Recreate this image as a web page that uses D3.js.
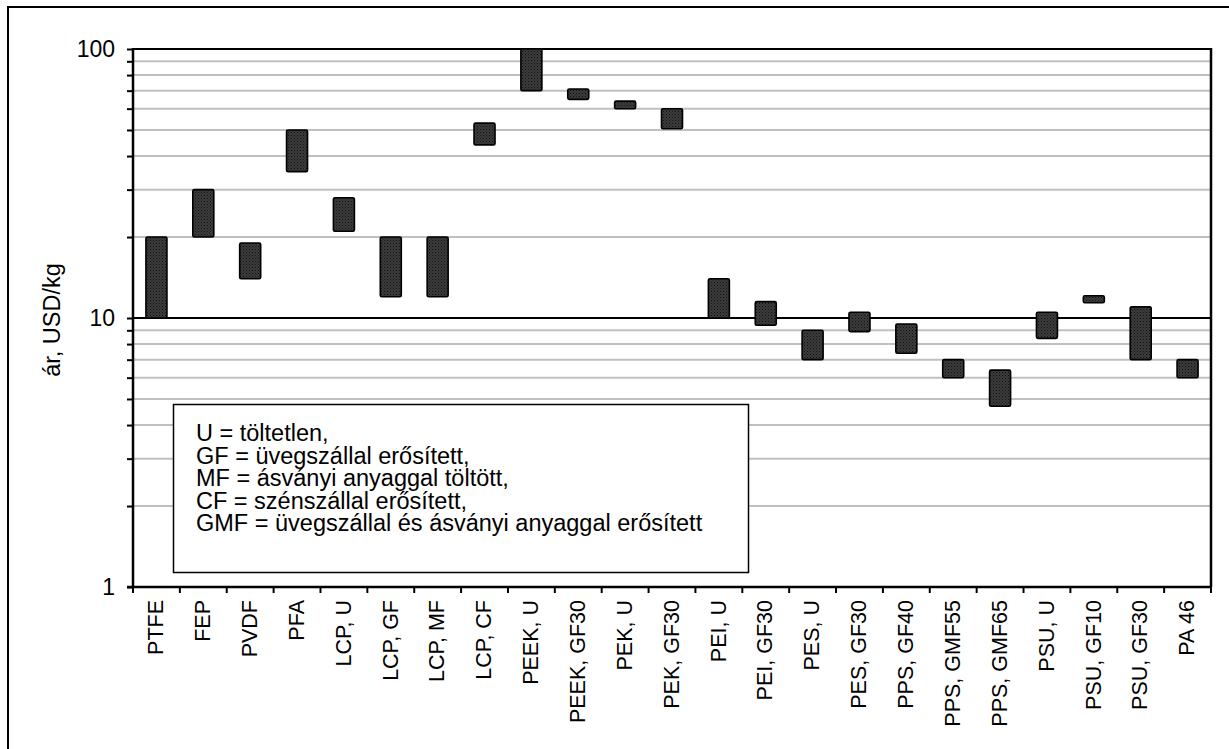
<!DOCTYPE html>
<html>
<head>
<meta charset="utf-8">
<script src="https://cdn.jsdelivr.net/npm/d3@7"></script>
<style>
  body { margin: 0; background: #fff; }
  svg { display: block; font-family: "Liberation Sans", Arial, sans-serif; }
</style>
</head>
<body>
<svg width="1229" height="749"></svg>
<script>
// Data: price range (USD/kg) per polymer grade
const categories = ["PTFE", "FEP", "PVDF", "PFA", "LCP, U", "LCP, GF", "LCP, MF", "LCP, CF",
    "PEEK, U", "PEEK, GF30", "PEK, U", "PEK, GF30", "PEI, U", "PEI, GF30", "PES, U", "PES, GF30",
    "PPS, GF40", "PPS, GMF55", "PPS, GMF65", "PSU, U", "PSU, GF10", "PSU, GF30", "PA 46"];
const lowValues = [10, 20, 14, 35, 21, 12, 12, 44, 70, 65, 60, 50.5, 10, 9.4, 7, 8.9, 7.4, 6, 4.7, 8.4, 11.4, 7, 6];
const highValues = [20, 30, 19, 50, 28, 20, 20, 53, 100, 71, 64, 60, 14, 11.5, 9, 10.5, 9.5, 7, 6.4, 10.5, 12.1, 11, 7];
const yTicks = [1, 10, 100];
const legendLines = [
    "U = töltetlen,",
    "GF = üvegszállal erősített,",
    "MF = ásványi anyaggal töltött,",
    "CF = szénszállal erősített,",
    "GMF = üvegszállal és ásványi anyaggal erősített"
];

const data = categories.map((c, i) => ({ name: c, lo: lowValues[i], hi: highValues[i] }));

const svg = d3.select("svg");
const pLeft = 133, pRight = 1211, pTop = 49, pBottom = 587;

// outer frame
svg.append("rect").attr("x", 8).attr("y", 7).attr("width", 1240).attr("height", 760)
    .attr("fill", "none").attr("stroke", "#000").attr("stroke-width", 2);

const x = d3.scaleBand().domain(categories).range([pLeft, pRight]);
const y = d3.scaleLog().domain([1, 100]).range([pBottom, pTop]);

// minor grid values 2..9, 20..90
const minor = [];
[1, 10].forEach(b => { for (let k = 2; k <= 9; k++) minor.push(b * k); });

svg.append("g").selectAll("line").data(minor).enter().append("line")
    .attr("x1", pLeft).attr("x2", pRight)
    .attr("y1", d => y(d)).attr("y2", d => y(d))
    .attr("stroke", "#c0c0c0").attr("stroke-width", 2);

// major line at 10 and top line at 100
svg.append("g").selectAll("line").data([10, 100]).enter().append("line")
    .attr("x1", pLeft).attr("x2", pRight)
    .attr("y1", d => y(d)).attr("y2", d => y(d))
    .attr("stroke", "#000").attr("stroke-width", 2);

// right border
svg.append("line").attr("x1", pRight).attr("x2", pRight).attr("y1", pTop - 1).attr("y2", pBottom)
    .attr("stroke", "#000").attr("stroke-width", 2.5);

// bar texture
const defs = svg.append("defs");
const pat = defs.append("pattern").attr("id", "dots").attr("width", 3).attr("height", 3)
    .attr("patternUnits", "userSpaceOnUse");
pat.append("rect").attr("width", 3).attr("height", 3).attr("fill", "#3c3c3c");
pat.append("rect").attr("width", 1).attr("height", 1).attr("fill", "#111");
pat.append("rect").attr("x", 1.5).attr("y", 1.5).attr("width", 1).attr("height", 1).attr("fill", "#1a1a1a");

const bw = 21;
svg.append("g").selectAll("rect").data(data).enter().append("rect")
    .attr("x", d => x(d.name) + x.bandwidth() / 2 - bw / 2)
    .attr("y", d => y(d.hi))
    .attr("width", bw)
    .attr("height", d => y(d.lo) - y(d.hi))
    .attr("rx", 1.5)
    .attr("fill", "url(#dots)")
    .attr("stroke", "#000").attr("stroke-width", 1.6);

// legend box
const lg = svg.append("g");
lg.append("rect").attr("x", 173.5).attr("y", 404.5).attr("width", 575).attr("height", 168)
    .attr("fill", "#fff").attr("stroke", "#000").attr("stroke-width", 1.5);
lg.selectAll("text").data(legendLines).enter().append("text")
    .attr("x", 196).attr("y", (d, i) => 441 + i * 22.5)
    .attr("font-size", 23.5).text(d => d);

// y axis
const yAxis = d3.axisLeft(y).tickValues(yTicks.concat(minor)).tickSize(6)
    .tickFormat(d => yTicks.includes(d) ? d3.format("d")(d) : "");
const ya = svg.append("g").attr("transform", `translate(${pLeft},0)`).call(yAxis);
ya.select(".domain").attr("stroke-width", 2.5).attr("d", `M0,${pTop - 1}V${pBottom + 1}`);
ya.selectAll(".tick line").attr("stroke-width", 2);
ya.selectAll(".tick text").attr("font-size", 23).attr("font-family", "Liberation Sans, Arial, sans-serif")
    .attr("fill", "#000").attr("x", -18);

// x axis with ticks at band edges
svg.append("line").attr("x1", pLeft - 6).attr("x2", pRight + 1).attr("y1", pBottom).attr("y2", pBottom)
    .attr("stroke", "#000").attr("stroke-width", 2.5);
const edges = categories.map(c => x(c)).concat([pRight]);
svg.append("g").selectAll("line").data(edges).enter().append("line")
    .attr("x1", d => d).attr("x2", d => d).attr("y1", pBottom).attr("y2", pBottom + 6)
    .attr("stroke", "#000").attr("stroke-width", 2);

svg.append("g").selectAll("text").data(categories).enter().append("text")
    .attr("transform", d => `translate(${x(d) + x.bandwidth() / 2 - 1},600) rotate(-90)`)
    .attr("text-anchor", "end").attr("dy", "0.36em")
    .attr("font-size", 21.5).text(d => d);

// y title
svg.append("text").attr("transform", "translate(52,320) rotate(-90)")
    .attr("text-anchor", "middle").attr("dy", "0.36em")
    .attr("font-size", 23.5).text("ár, USD/kg");
</script>
</body>
</html>
